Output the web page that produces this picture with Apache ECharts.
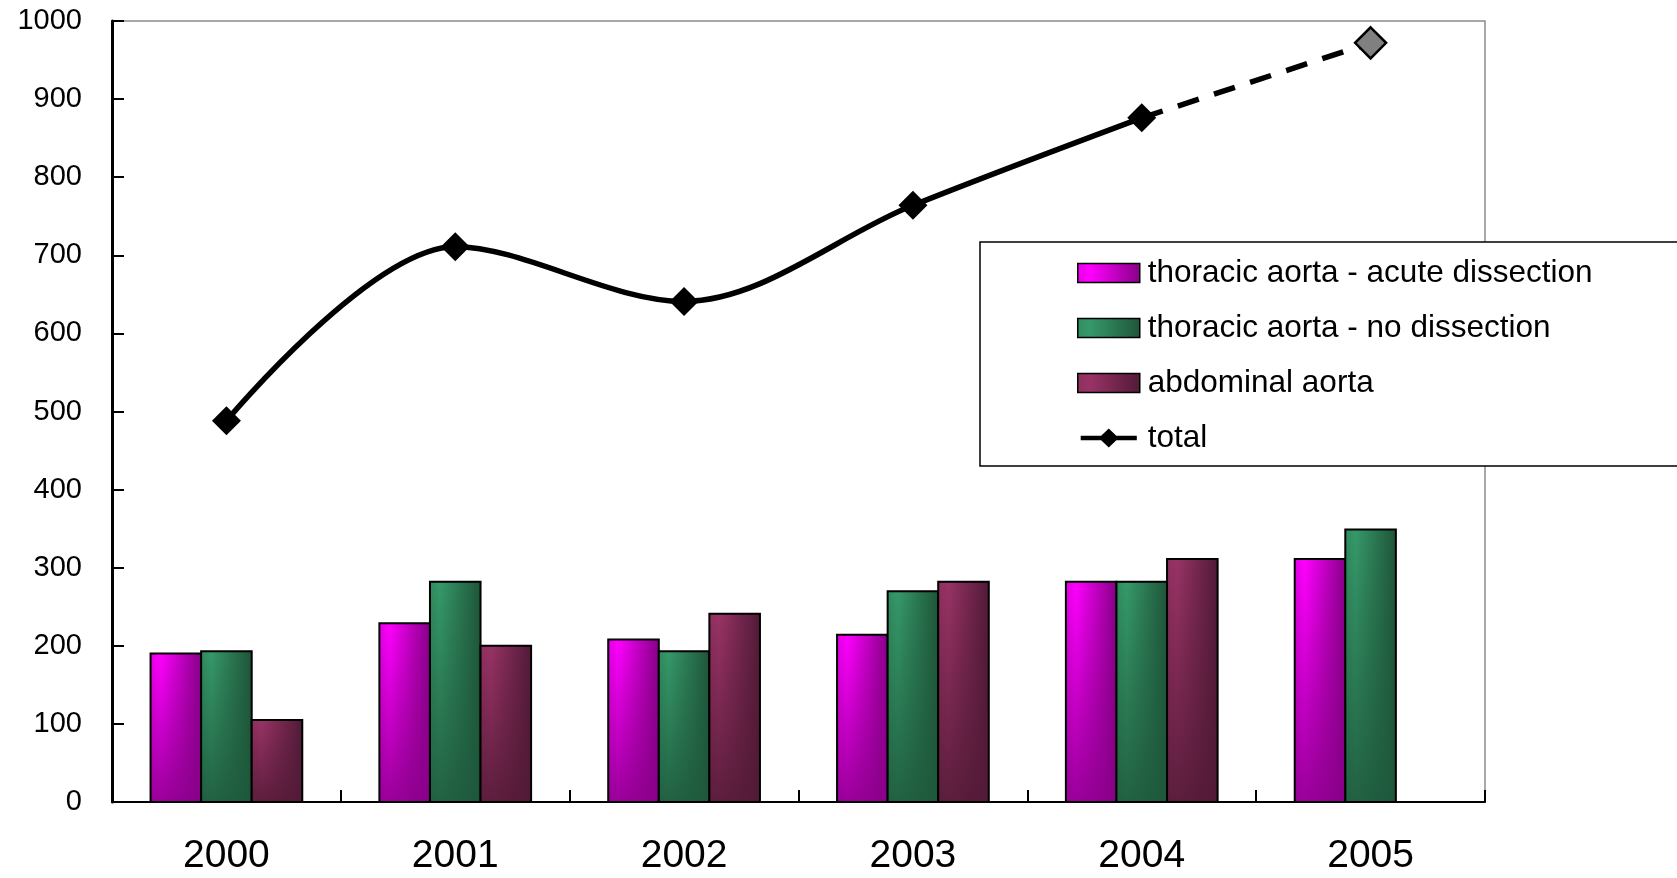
<!DOCTYPE html>
<html>
<head>
<meta charset="utf-8">
<title>Aortic surgery by year</title>
<script src="https://cdn.jsdelivr.net/npm/echarts@6/dist/echarts.min.js"></script>
<style>
  html, body { margin: 0; padding: 0; background: #fff; }
  #chart { width: 1677px; height: 878px; }
</style>
</head>
<body>
<div id="chart"></div>
<script>
// Years on the category axis
const years = ['2000', '2001', '2002', '2003', '2004', '2005'];

// Case counts per year
const acuteDissection = [190, 229, 208, 214, 282, 311];
const noDissection = [193, 282, 193, 270, 282, 349];
const abdominalAorta = [105, 200, 241, 282, 311, null];

// Yearly total; the 2005 value is a projection drawn dashed
const totalObserved = [488, 711, 641, 764, 876, null];
const totalProjected = [null, null, null, null, 876, 972];

// Y axis ticks
const yTicks = { min: 0, max: 1000, step: 100 };

const seriesNames = [
  'thoracic aorta - acute dissection',
  'thoracic aorta - no dissection',
  'abdominal aorta',
  'total'
];

const FONT = '"Liberation Sans", Arial, sans-serif';
const LG = echarts.graphic.LinearGradient;

// Shaded bar fills: a horizontal sheen plus a darkening toward the base
const palettes = [
  { edge: '#e400e4', light: '#ff00ff', dark: '#870087', shade: '136,0,136' },
  { edge: '#2f8c5c', light: '#36996a', dark: '#1e5539', shade: '30,88,60' },
  { edge: '#8e305e', light: '#993366', dark: '#511a37', shade: '82,26,54' }
];

function sheen(p) {
  return new LG(0, 0, 1, 0, [
    { offset: 0, color: p.edge },
    { offset: 0.2, color: p.light },
    { offset: 1, color: p.dark }
  ]);
}
function shade(p) {
  return new LG(0, 0, 0, 1, [
    { offset: 0, color: 'rgba(' + p.shade + ',0)' },
    { offset: 1, color: 'rgba(' + p.shade + ',0.85)' }
  ]);
}

// Fraction of a category band taken by one bar (three bars per group)
const BAR_FRACTION = 0.221;
const GROUP_SIZE = 3;

function barRenderer(slot, palette) {
  return function (params, api) {
    const v = api.value(1);
    if (v == null || isNaN(v)) return null;
    const idx = api.value(0);
    const base = api.coord([idx, 0]);
    const top = api.coord([idx, v]);
    const band = api.size([1, 0])[0];
    const w = band * BAR_FRACTION;
    const x = base[0] - (GROUP_SIZE / 2) * w + slot * w;
    const shape = { x: x, y: top[1], width: w, height: base[1] - top[1] };
    return {
      type: 'group',
      children: [
        { type: 'rect', shape: shape, style: { fill: sheen(palette) } },
        { type: 'rect', shape: shape, style: { fill: shade(palette), stroke: '#000', lineWidth: 2 } }
      ]
    };
  };
}

function barSeries(name, values, slot) {
  return {
    name: name,
    type: 'custom',
    renderItem: barRenderer(slot, palettes[slot]),
    encode: { x: 0, y: 1 },
    data: values.map(function (v, i) { return [i, v]; }),
    itemStyle: { color: sheen(palettes[slot]), borderColor: '#000', borderWidth: 1.5 },
    z: 2
  };
}

// Legend key for the total: thick line with a diamond in the middle
const TOTAL_ICON = 'path://M0,7 L62,7 L62,12 L0,12 Z M31,-1 L42,9.5 L31,20 L20,9.5 Z';

const chart = echarts.init(document.getElementById('chart'), null, { renderer: 'canvas' });

chart.setOption({
  animation: false,
  backgroundColor: '#fff',
  grid: {
    left: 112, right: 192, top: 21, bottom: 76,
    show: true, borderColor: '#8c8c8c', borderWidth: 1.5, backgroundColor: 'transparent'
  },
  legend: {
    orient: 'vertical',
    left: 980,
    top: 242,
    padding: [15, 160, 12, 97],
    backgroundColor: '#fff',
    borderColor: '#000',
    borderWidth: 1.5,
    borderRadius: 0,
    itemWidth: 62,
    itemHeight: 19,
    itemGap: 23,
    selectedMode: false,
    textStyle: { fontFamily: FONT, fontSize: 31.5, lineHeight: 30.5, color: '#000', padding: [0, 0, 0, 3] },
    data: [
      { name: seriesNames[0], icon: 'rect', itemStyle: { color: sheen(palettes[0]), borderColor: '#000', borderWidth: 1.5 } },
      { name: seriesNames[1], icon: 'rect', itemStyle: { color: sheen(palettes[1]), borderColor: '#000', borderWidth: 1.5 } },
      { name: seriesNames[2], icon: 'rect', itemStyle: { color: sheen(palettes[2]), borderColor: '#000', borderWidth: 1.5 } },
      { name: seriesNames[3], icon: TOTAL_ICON, itemStyle: { color: '#000', borderWidth: 0 } }
    ]
  },
  xAxis: {
    type: 'category',
    data: years,
    boundaryGap: true,
    axisLine: { lineStyle: { color: '#000', width: 2 } },
    axisTick: { show: true, inside: true, length: 12, lineStyle: { color: '#000', width: 2 } },
    axisLabel: { fontFamily: FONT, fontSize: 39, color: '#000', margin: 35 },
    splitLine: { show: false }
  },
  yAxis: {
    type: 'value',
    min: yTicks.min,
    max: yTicks.max,
    interval: yTicks.step,
    axisLine: { show: true, lineStyle: { color: '#000', width: 3 } },
    axisTick: { show: true, inside: true, length: 12, lineStyle: { color: '#000', width: 2 } },
    axisLabel: {
      fontFamily: FONT, fontSize: 29, color: '#000', margin: 30,
      formatter: function (v) { return String(v); }
    },
    splitLine: { show: false }
  },
  series: [
    barSeries(seriesNames[0], acuteDissection, 0),
    barSeries(seriesNames[1], noDissection, 1),
    barSeries(seriesNames[2], abdominalAorta, 2),
    {
      name: seriesNames[3],
      type: 'line',
      data: totalObserved,
      smooth: 0.33,
      connectNulls: false,
      symbol: 'diamond',
      symbolSize: 29,
      itemStyle: { color: '#000' },
      lineStyle: { color: '#000', width: 5.5 },
      z: 5
    },
    {
      name: seriesNames[3],
      type: 'line',
      data: totalProjected.map(function (v, i) {
        return i === 4 ? { value: v, symbol: 'none' } : v;
      }),
      symbol: 'diamond',
      symbolSize: 31,
      itemStyle: { color: '#808080', borderColor: '#000', borderWidth: 2.5 },
      lineStyle: { color: '#000', width: 5.5, type: [22, 16] },
      z: 4
    }
  ]
});
</script>
</body>
</html>
